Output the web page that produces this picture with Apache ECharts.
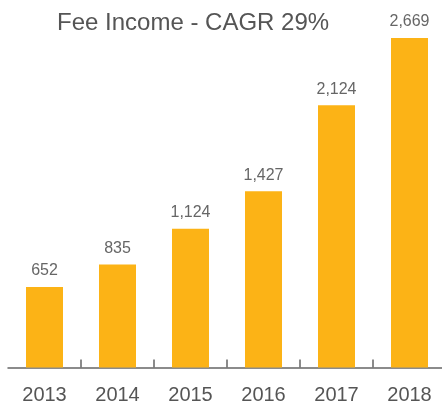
<!DOCTYPE html>
<html>
<head>
<meta charset="utf-8">
<script src="https://cdn.jsdelivr.net/npm/echarts@6/dist/echarts.min.js"></script>
<style>
  html, body { margin: 0; padding: 0; background: #fff; }
  #main { width: 442px; height: 406px; }
</style>
</head>
<body>
<div id="main"></div>
<script>
const years = ["2013", "2014", "2015", "2016", "2017", "2018"];
const feeIncome = [652, 835, 1124, 1427, 2124, 2669];
const chartTitle = "Fee Income - CAGR 29%";

const font = "'Helvetica Neue', Helvetica, Arial, 'Liberation Sans', sans-serif";
const myChart = echarts.init(document.getElementById("main"));

const option = {
  animation: false,
  title: {
    text: chartTitle,
    left: 52,
    top: 6,
    textStyle: { color: "#555", fontSize: 24, fontWeight: "normal", fontFamily: font },
  },
  grid: { left: 8, top: 38, right: -4, bottom: 38.5, containLabel: false, outerBoundsMode: "none" },
  xAxis: {
    type: "category",
    data: years,
    axisLine: { lineStyle: { color: "#666", width: 1.5 } },
    axisTick: {
      show: true,
      inside: true,
      length: 8,
      // no tick at the left end of the axis
      interval: function (index) { return index !== 0; },
      lineStyle: { color: "#666", width: 1.5 },
    },
    axisLabel: { color: "#555", fontSize: 20, margin: 18, fontFamily: font },
  },
  yAxis: {
    type: "value",
    min: 0,
    max: "dataMax",
    show: false,
    splitLine: { show: false },
  },
  series: [
    {
      type: "bar",
      data: feeIncome,
      barWidth: 37,
      itemStyle: { color: "#FCB316" },
      label: {
        show: true,
        position: "top",
        distance: 8,
        color: "#666",
        fontSize: 16,
        fontFamily: font,
        formatter: (p) => p.value.toLocaleString("en-US"),
      },
    },
  ],
};

option && myChart.setOption(option);
</script>
</body>
</html>
